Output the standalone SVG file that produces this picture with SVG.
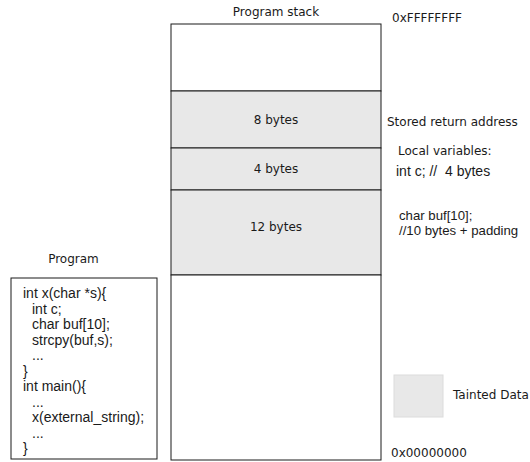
<svg xmlns="http://www.w3.org/2000/svg" width="530" height="462" viewBox="0 0 530 462">
<style>
.lbl{font-family:"DejaVu Sans",sans-serif;font-size:12px;fill:#1a1a1a}
.code{font-family:"Liberation Sans",Arial,sans-serif;font-size:14px;fill:#1a1a1a;white-space:pre}
.note{font-size:13.2px}
.box{stroke:#1a1a1a;stroke-width:1}
.taint{fill:#e8e8e8}
.clear{fill:#ffffff}
</style>
<rect width="530" height="462" fill="#ffffff"/>
<g id="stack">
<rect class="box clear" x="171" y="24" width="210" height="67"/>
<rect class="box taint" x="171" y="91" width="210" height="57"/>
<rect class="box taint" x="171" y="148" width="210" height="42"/>
<rect class="box taint" x="171" y="190" width="210" height="85"/>
<rect class="box clear" x="171" y="275" width="210" height="185"/>
<text class="lbl" x="276" y="16" text-anchor="middle">Program stack</text>
<text class="lbl" x="276" y="124" text-anchor="middle">8 bytes</text>
<text class="lbl" x="276" y="173" text-anchor="middle">4 bytes</text>
<text class="lbl" x="276" y="231" text-anchor="middle">12 bytes</text>
</g>
<g id="annotations">
<text class="lbl" x="392" y="22">0xFFFFFFFF</text>
<text class="lbl" x="387" y="126">Stored return address</text>
<text class="lbl" x="398" y="155">Local variables:</text>
<text class="code" x="396" y="176" xml:space="preserve">int c; //  4 bytes</text>
<text class="code note" x="399" y="220">char buf[10];</text>
<text class="code note" x="399" y="234.5">//10 bytes + padding</text>
<text class="lbl" x="391" y="457">0x00000000</text>
</g>
<g id="legend">
<rect class="taint" x="394" y="375" width="49" height="42" stroke="#dcdcdc" stroke-width="1"/>
<text class="lbl" x="453" y="399">Tainted Data</text>
</g>
<g id="program">
<text class="lbl" x="73.5" y="263" text-anchor="middle">Program</text>
<rect class="box clear" x="11" y="278" width="146" height="181"/>
<text class="code" x="23" y="298">int x(char *s){</text>
<text class="code" x="32" y="313.5">int c;</text>
<text class="code" x="32" y="329">char buf[10];</text>
<text class="code" x="32" y="344.5">strcpy(buf,s);</text>
<text class="code" x="32" y="360">...</text>
<text class="code" x="23" y="375.5">}</text>
<text class="code" x="23" y="391">int main(){</text>
<text class="code" x="32" y="406.5">...</text>
<text class="code" x="32" y="422">x(external_string);</text>
<text class="code" x="32" y="437.5">...</text>
<text class="code" x="23" y="453">}</text>
</g>
</svg>
